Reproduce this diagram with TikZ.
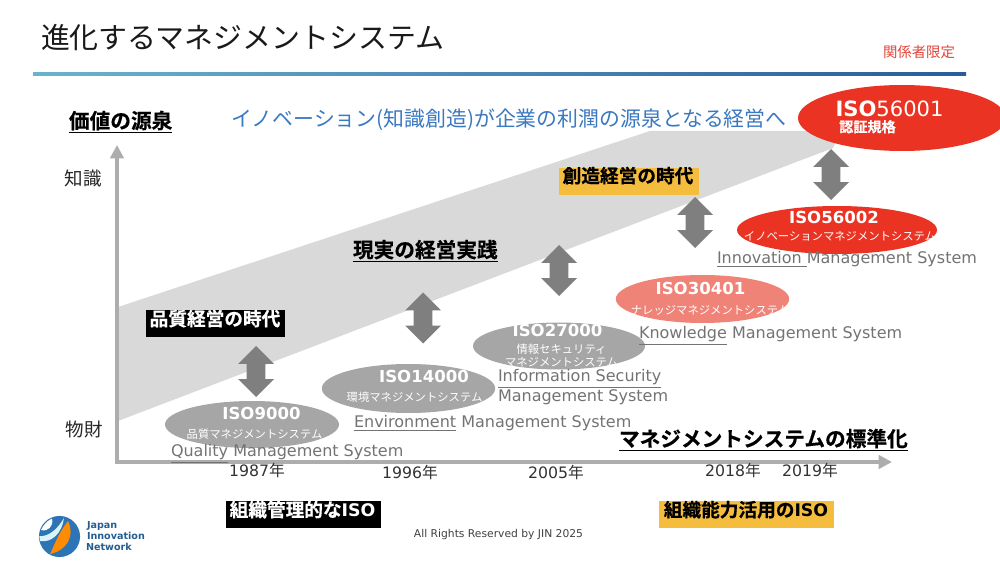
\documentclass[tikz,border=0pt]{standalone}
\usepackage{fontspec}
\usetikzlibrary{arrows.meta,shapes.geometric,shapes.arrows}
\setmainfont{DejaVu Sans}
\newfontfamily\jp{Noto Sans CJK JP}[BoldFont={* Bold},BoldFeatures={FakeBold=0.5}]
\newcommand{\fs}[1]{\fontsize{#1}{#1}\selectfont}
\definecolor{axisgray}{HTML}{ADADAD}
\definecolor{bandgray}{HTML}{D9D9D9}
\definecolor{arrowgray}{HTML}{7F7F7F}
\definecolor{ellgray}{HTML}{A6A6A6}
\definecolor{isored}{HTML}{EA3323}
\definecolor{isopink}{HTML}{F08378}
\definecolor{txtgray}{HTML}{737373}
\definecolor{yel}{HTML}{F5BD3E}
\definecolor{jinblue}{HTML}{2C74B5}
\definecolor{inkblue}{HTML}{3A78C0}
\definecolor{limred}{HTML}{E0453A}
\definecolor{barl}{HTML}{6BB3CC}
\definecolor{barr}{HTML}{295C9C}
\tikzset{
 x=0.75pt,y=-0.75pt,
 lab/.style={inner sep=0pt,outer sep=0pt,anchor=base},
 leftlab/.style={inner sep=0pt,outer sep=0pt,anchor=base west},
 cjk/.style={font=\jp\fs{#1},yshift={-0.36*#1 pt}},
 cjkb/.style={font=\jp\bfseries\fs{#1},yshift={-0.36*#1 pt}},
 lat/.style={font=\fs{#1},yshift={-0.36*#1 pt}},
 latb/.style={font=\bfseries\fs{#1},yshift={-0.36*#1 pt}},
 isoname/.style={lab,text=white,latb=12.4},
 isosub/.style={lab,text=white,cjk=8.5},
 eng/.style={leftlab,text=txtgray,lat=12},
 year/.style={lab,text=black!80,lat=11.8},
 dbl/.style={shape=double arrow,draw=none,fill=arrowgray,rotate=90,inner sep=0pt,text height=13.5pt,text depth=0pt,
   minimum height=38.25pt,minimum width=26.25pt,double arrow head extend=6.375pt,double arrow tip angle=90},
 iso/.style={ellipse,draw=none,inner sep=0pt},
 heading/.style={leftlab,cjkb=15.5},
 logotxt/.style={leftlab,latb=7.2,text=jinblue!80!black},
}
\newcommand{\isob}{{\normalfont\bfseries\fs{13}ISO}}
\begin{document}
\begin{tikzpicture}
\useasboundingbox (0,0) rectangle (1000,563);
\clip (0,0) rectangle (1000,563);
% title
\node[leftlab,cjk=21.7,text=black!90] (title) at (41,38) {進化するマネジメントシステム};
\shade[left color=barl,right color=barr] (33,72.5) rectangle (966,76);
\node[lab,cjk=10.8,text=limred] (limited) at (919,52) {関係者限定};
% band
\fill[bandgray] (118,307) -- (650,131) -- (840,131) -- (833,148) -- (118,421) -- cycle;
% axes
\coordinate (orig) at (117,462);
\coordinate (ytip) at (117,145);
\coordinate (xtip) at (892,462);
\draw[axisgray,line width=3pt,-{Triangle[length=10pt,width=10pt]}] (115.5,462) -- (xtip);
\draw[axisgray,line width=3pt,-{Triangle[length=10pt,width=10pt]}] (117,463.5) -- (ytip);
% top labels
\node[heading] (source) at (69,121) {\underline{価値の源泉}};
\node[leftlab,cjk=15.65,text=inkblue] (innov) at (231,119) {イノベーション(知識創造)が企業の利潤の源泉となる経営へ};
\node[lab,cjk=13.9,text=black!85] (chi) at (83,179) {知識};
\node[lab,cjk=13.9,text=black!85] (bus) at (84,430) {物財};
\node[heading] (jissen) at (353,250) {\underline{現実の経営実践}};
\node[heading] (hyojun) at (619,439) {\underline{マネジメントシステムの標準化}};
% boxes
\fill[black] (146,310) rectangle (285,337);
\node[lab,text=white,cjkb=14] (hinshitsu) at (215,319) {品質経営の時代};
\fill[yel] (559,168) rectangle (699,195);
\node[lab,text=black,cjkb=14] (sozo) at (628,176) {創造経営の時代};
\fill[black] (226,501) rectangle (381,528);
\node[lab,text=white,cjkb=14] (soshiki) at (302.5,510) {組織管理的な\isob};
\fill[yel] (659,501) rectangle (834,528);
\node[lab,text=black,cjkb=14] (noryoku) at (746,510) {組織能力活用の\isob};
% double arrows
\node[dbl] (a1) at (256,371.5) {};
\node[dbl] (a2) at (423,318) {};
\node[dbl] (a3) at (559,270.5) {};
\node[dbl] (a4) at (695,222.5) {};
\node[dbl] (a5) at (831,174.5) {};
% ellipses
\node[iso,fill=ellgray,minimum width=130.5pt,minimum height=35.25pt] (e1) at (252,424.5) {};
\node[iso,fill=ellgray,minimum width=130pt,minimum height=36.75pt] (e2) at (408.5,388.5) {};
\node[iso,fill=ellgray,minimum width=129pt,minimum height=35.25pt] (e3) at (559,346) {};
\node[iso,fill=isopink,minimum width=130pt,minimum height=36pt] (e4) at (702.5,299) {};
\node[iso,fill=isored,minimum width=150pt,minimum height=36pt] (e5) at (837,230) {};
\node[iso,fill=isored,minimum width=156pt,minimum height=49.5pt] (e6) at (902,118) {};
% ellipse texts
\node[isoname] (n1) at (261.5,414) {ISO9000};
\node[isosub] (s1) at (254.5,434) {品質マネジメントシステム};
\node[isoname] (n2) at (424,377) {ISO14000};
\node[isosub] (s2) at (414.5,397) {環境マネジメントシステム};
\node[isoname] (n3) at (557.5,331) {ISO27000};
\node[isosub] (s3) at (561.5,349) {情報セキュリティ};
\node[isosub] (s3b) at (561.5,362) {マネジメントシステム};
\node[isoname] (n4) at (700.5,289) {ISO30401};
\node[isosub] (s4) at (710,310) {ナレッジマネジメントシステム};
\node[isoname] (n5) at (834,218) {ISO56002};
\node[isosub] (s5) at (840,236) {イノベーションマネジメントシステム};
\node[lab,text=white,lat=15.8] (n6) at (889.5,108.5) {\textbf{ISO}56001};
\node[lab,text=white,cjkb=10.6] (s6) at (867.5,127) {認証規格};
% english
\node[eng] (g1) at (171,451) {\underline{Quality} Management System};
\node[eng] (g2) at (354,422) {\underline{Environment} Management System};
\node[eng] (g3) at (498,376) {\underline{Information Security}};
\node[eng] (g3b) at (498,396) {Management System};
\node[eng] (g4) at (639,333) {\underline{Knowledge} Management System};
\node[eng] (g5) at (717,258) {\underline{Innovation\ }Management System};
% years
\node[year] (y1) at (257,471) {1987{\jp 年}};
\node[year] (y2) at (410,473) {1996{\jp 年}};
\node[year] (y3) at (556,473) {2005{\jp 年}};
\node[year] (y4) at (733,471) {2018{\jp 年}};
\node[year] (y5) at (810,471) {2019{\jp 年}};
% footer
\node[lab,lat=8.05,text=black!75] (rights) at (498.5,534) {All Rights Reserved by JIN 2025};
% logo
\fill[jinblue] (59.5,536.5) circle (15.4pt);
\fill[orange!90!yellow] (68,521) .. controls (75,535) and (68,550) .. (50,554) .. controls (54,546) and (58,534) .. cycle;
\fill[white!85!cyan] (64,518) .. controls (62,533) and (52,543) .. (40,541) .. controls (39.5,539) and (39,538) .. (39.3,536) .. controls (48,537) and (57,530) .. cycle;
\fill[white] (52,518.5) .. controls (54,526) and (48,532) .. (41,530) .. controls (44,524) and (47,521) .. cycle;
\node[logotxt] (l1) at (87,525) {Japan};
\node[logotxt] (l2) at (87,536) {Innovation};
\node[logotxt] (l3) at (86,547) {Network};
\end{tikzpicture}
\end{document}
